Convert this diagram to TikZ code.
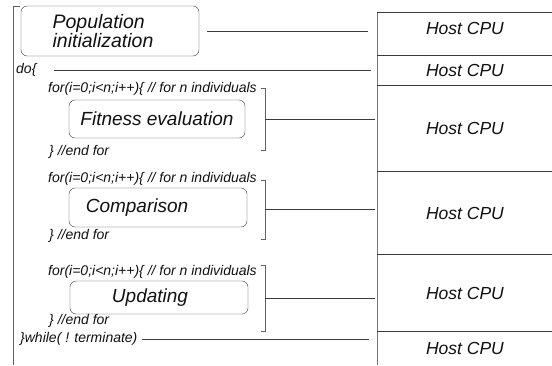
\documentclass[tikz,border=0pt]{standalone}
\usepackage{fontspec}
\setmainfont{Liberation Sans}
\usepackage{tikz}
\usetikzlibrary{calc}
\definecolor{inkgray}{HTML}{111111}
\definecolor{rulegray}{HTML}{3A3A3A}

\begin{document}
\begin{tikzpicture}[x=1pt, y=-1pt, text=inkgray,
  stage/.style={draw=rulegray, rounded corners=6pt, minimum width=178pt, minimum height=36pt, inner sep=2pt, font=\fontsize{19}{19}\selectfont\itshape},
  code/.style={anchor=west, inner sep=0pt, font=\fontsize{14}{14}\selectfont\itshape},
  cpu/.style={font=\fontsize{17.5}{17.5}\selectfont\itshape},
  link/.style={rulegray, semithick},
  brk/.style={rulegray!80}]
  \useasboundingbox (0,0) rectangle (552,365);
  \draw[brk] (20,6) -- (13,6) -- (13,365);
  \node[stage, minimum height=50pt, align=left, font=\fontsize{19.5}{19}\selectfont\itshape] (pop) at (110,31) {Population\\initialization\hspace*{14pt}};
  \node[code] (do) at (16,70) {do\{};
  \foreach \n/\f/\e in {1/89/152, 2/179/236, 3/272/321}{
    \node[code] (for\n) at (48,\f) {for(i=0;i<n;i++)\{ // for n individuals};
    \node[code] (end\n) at (49,\e) {\} //end for};
  }
  \node[stage, minimum width=176pt, minimum height=38pt] (fit) at (157,119) {Fitness evaluation};
  \node[stage, minimum height=39pt] (cmp) at (158,207.5) {Comparison\hspace*{42pt}};
  \node[stage, minimum height=33pt] (upd) at (159,297.5) {Updating\hspace*{18pt}};
  \node[code] (whl) at (20,339) {\}while( ! terminate)};
  % host side
  \coordinate (col) at (377,12);
  \draw[rulegray!70] (col) -- (377,365);
  \foreach \y in {12,55,85,171,254,331}{ \draw[rulegray] (377,\y) -- (552,\y); }
  \foreach \n/\y in {1/28, 2/70, 3/128, 4/213, 5/293, 6/348}{ \node[cpu] (cpu\n) at (465,\y) {Host CPU}; }
  \foreach \n/\t/\b in {1/88/150, 2/180/239, 3/265/331}{
    \draw[brk] (261,\t) -- (265,\t) -- (265,\b) -- (261,\b);
    \coordinate (b\n) at (265,{(\t+\b)/2});
    \draw[link, shorten >=2pt] (b\n) -- (b\n -| col);
  }
  \draw[link, shorten <=8pt, shorten >=9pt] (pop.east) -- (pop.east -| col);
  \draw[link, shorten <=17pt, shorten >=6pt] (do.east) -- (do.east -| col);
  \draw[link, shorten <=4pt, shorten >=8pt] (whl.east) -- (whl.east -| col);
\end{tikzpicture}
\end{document}
